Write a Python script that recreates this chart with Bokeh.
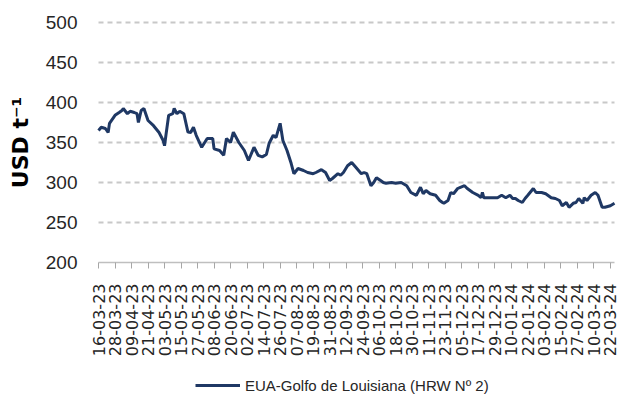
import pandas as pd
from math import pi
from bokeh.plotting import figure
from bokeh.models import Range1d, FixedTicker, Legend, LegendItem, Label
from bokeh.embed import file_html
from bokeh.resources import INLINE

series_name = "EUA-Golfo de Louisiana (HRW Nº 2)"
y_label = "USD t⁻¹"
y_ticks = [200, 250, 300, 350, 400, 450, 500]
x_tick_labels = [
    "16-03-23", "28-03-23", "09-04-23", "21-04-23", "03-05-23", "15-05-23",
    "27-05-23", "08-06-23", "20-06-23", "02-07-23", "14-07-23", "26-07-23",
    "07-08-23", "19-08-23", "31-08-23", "12-09-23", "24-09-23", "06-10-23",
    "18-10-23", "30-10-23", "11-11-23", "23-11-23", "05-12-23", "17-12-23",
    "29-12-23", "10-01-24", "22-01-24", "03-02-24", "15-02-24", "27-02-24",
    "10-03-24", "22-03-24",
]

dates = [
    "2023-03-16", "2023-03-18", "2023-03-21", "2023-03-23", "2023-03-24", "2023-03-28", "2023-03-31",
    "2023-04-02", "2023-04-03", "2023-04-06", "2023-04-08", "2023-04-11", "2023-04-13", "2023-04-14",
    "2023-04-16", "2023-04-18", "2023-04-19", "2023-04-21", "2023-04-25", "2023-04-29",
    "2023-05-02", "2023-05-03", "2023-05-04", "2023-05-06", "2023-05-09", "2023-05-10", "2023-05-12",
    "2023-05-14", "2023-05-17", "2023-05-20", "2023-05-22", "2023-05-24", "2023-05-26", "2023-05-30",
    "2023-06-03", "2023-06-07", "2023-06-08", "2023-06-12", "2023-06-15", "2023-06-17", "2023-06-20",
    "2023-06-22", "2023-06-26", "2023-06-30",
    "2023-07-03", "2023-07-07", "2023-07-10", "2023-07-13", "2023-07-16", "2023-07-18", "2023-07-21",
    "2023-07-23", "2023-07-26", "2023-07-28", "2023-07-31",
    "2023-08-03", "2023-08-05", "2023-08-08", "2023-08-12", "2023-08-15", "2023-08-19", "2023-08-21",
    "2023-08-25", "2023-08-28", "2023-08-31",
    "2023-09-02", "2023-09-06", "2023-09-08", "2023-09-10", "2023-09-13", "2023-09-16", "2023-09-19",
    "2023-09-23", "2023-09-25", "2023-09-27", "2023-09-30",
    "2023-10-02", "2023-10-04", "2023-10-07", "2023-10-09", "2023-10-11", "2023-10-15", "2023-10-18",
    "2023-10-22", "2023-10-26", "2023-10-29",
    "2023-11-02", "2023-11-05", "2023-11-07", "2023-11-09", "2023-11-12", "2023-11-16", "2023-11-19",
    "2023-11-21", "2023-11-22", "2023-11-25", "2023-11-27", "2023-11-29",
    "2023-12-02", "2023-12-04", "2023-12-07", "2023-12-09", "2023-12-13", "2023-12-17", "2023-12-19",
    "2023-12-20", "2023-12-21", "2023-12-26", "2023-12-31",
    "2024-01-03", "2024-01-06", "2024-01-09", "2024-01-11", "2024-01-13", "2024-01-15", "2024-01-18",
    "2024-01-20", "2024-01-22", "2024-01-26", "2024-01-28",
    "2024-02-01", "2024-02-04", "2024-02-08", "2024-02-11", "2024-02-14", "2024-02-16", "2024-02-19",
    "2024-02-21", "2024-02-24", "2024-02-26", "2024-02-28",
    "2024-03-02", "2024-03-03", "2024-03-05", "2024-03-08", "2024-03-11", "2024-03-13", "2024-03-16",
    "2024-03-18", "2024-03-22", "2024-03-25",
]

values = [
    365, 369, 367.5, 362.5, 374, 384, 387.5,
    390, 392.5, 386, 389, 387.5, 386, 375, 390, 392.5, 387.5, 377.5, 371, 362.5,
    352.5, 346, 359, 384, 386, 392.5, 386, 389, 386, 363, 362.5, 369, 359, 344,
    355, 355, 342, 340, 334, 355, 350, 363, 350, 340,
    327.5, 344, 334, 332, 335, 349, 359, 356, 374, 352.5, 340,
    324, 311, 317.5, 315, 312.5, 311, 312.5, 316, 312.5, 302.5,
    305, 311, 309, 312.5, 321, 325, 319, 311, 312.5, 311, 296,
    300, 306, 302.5, 300, 299, 300, 299, 300, 296, 287.5,
    284, 294, 286, 290, 286, 284, 277.5, 275, 274, 277.5, 287.5, 286,
    292.5, 294, 296, 292.5, 287.5, 284, 281, 287.5, 281, 281, 281,
    284, 281, 284, 280, 280, 277.5, 275, 280, 284, 292.5, 287.5,
    287.5, 286, 281, 280, 277.5, 271, 275, 269, 274, 275, 280,
    274, 281, 277.5, 284, 287.5, 284, 269, 269, 271, 274,
]

x = pd.to_datetime(dates)
xt = pd.to_datetime(x_tick_labels, format="%d-%m-%y")
tick_ms = [t.timestamp() * 1000 for t in xt]
x0, x1 = x.min(), x.max()
x0_ms, x1_ms = x0.timestamp() * 1000, x1.timestamp() * 1000

TEXT = "#262626"
SANS = "Liberation Sans"

# Canvas layout in pixels. The frame covers the whole canvas; the data area
# runs from PX_LEFT to PX_RIGHT and from PX_TOP (500) to PX_BOTTOM (200).
W, H = 622, 412
PX_LEFT, PX_RIGHT, PX_TOP, PX_BOTTOM = 98, 614, 22, 262
y_min, y_max = y_ticks[0], y_ticks[-1]
ppu = (PX_BOTTOM - PX_TOP) / (y_max - y_min)
span_days = (x1 - x0) / pd.Timedelta(days=1)
ppd = (PX_RIGHT - PX_LEFT) / span_days
x_start = x0 - pd.Timedelta(days=PX_LEFT / ppd)
x_end = x1 + pd.Timedelta(days=(W - PX_RIGHT) / ppd)
y_start = y_min - (H - PX_BOTTOM) / ppu
y_end = y_max + PX_TOP / ppu

p = figure(
    frame_width=W, frame_height=H,
    x_axis_type="datetime",
    output_backend="svg", toolbar_location=None,
    x_range=Range1d(x_start.to_pydatetime(), x_end.to_pydatetime()),
    y_range=Range1d(y_start, y_end),
    min_border=0,
)
p.outline_line_color = None
p.background_fill_color = "white"
p.border_fill_color = "white"
p.xgrid.grid_line_color = None
p.ygrid.grid_line_color = None

# horizontal dashed gridlines across the data area
grid_vals = y_ticks[1:]
p.segment(x0=[x0] * len(grid_vals), x1=[x1] * len(grid_vals), y0=grid_vals, y1=grid_vals,
          line_color="#c8c8c8", line_width=2, line_dash="5 4")

# x axis, pinned at y = 200
p.xaxis.fixed_location = y_min
p.xaxis.bounds = (x0_ms, x1_ms)
p.xaxis.ticker = FixedTicker(ticks=tick_ms)
p.xaxis.major_label_overrides = {ms: lab for ms, lab in zip(tick_ms, x_tick_labels)}
p.xaxis.major_label_orientation = pi / 2
p.xaxis.major_label_text_font = "DejaVu Sans"
p.xaxis.major_label_text_font_size = "16px"
p.xaxis.major_label_text_color = TEXT
p.xaxis.major_label_standoff = 15
p.xaxis.axis_line_color = "#bfbfbf"
p.xaxis.axis_line_width = 1.5
p.xaxis.major_tick_line_color = "#a6a6a6"
p.xaxis.major_tick_out = 6
p.xaxis.major_tick_in = 0
p.xaxis.minor_tick_line_color = None

# y axis, pinned at the first date
p.yaxis.fixed_location = x0_ms
p.yaxis.bounds = (y_min, y_max)
p.yaxis.ticker = FixedTicker(ticks=y_ticks)
p.yaxis.major_label_text_font = SANS
p.yaxis.major_label_text_font_size = "19px"
p.yaxis.major_label_text_color = TEXT
p.yaxis.major_label_standoff = 15
p.yaxis.axis_line_color = None
p.yaxis.major_tick_line_color = None
p.yaxis.minor_tick_line_color = None

# y axis title
p.add_layout(Label(
    x=20, y=H - 142, x_units="screen", y_units="screen",
    text=y_label, angle=pi / 2, text_align="center", text_baseline="middle",
    text_font="DejaVu Sans", text_font_style="bold", text_font_size="22px",
    text_color="#000000",
))

r = p.line(x, values, line_width=3, line_color="#1f3864")

legend = Legend(
    items=[LegendItem(label=series_name, renderers=[r])],
    location=(195, 17),
    glyph_width=45, glyph_height=20, label_height=20,
    label_standoff=5, padding=0, margin=0, spacing=0,
    border_line_color=None, background_fill_alpha=0,
    label_text_font=SANS, label_text_font_size="15px", label_text_color=TEXT,
)
p.add_layout(legend)

open("out.html", "w").write(file_html(p, INLINE))
